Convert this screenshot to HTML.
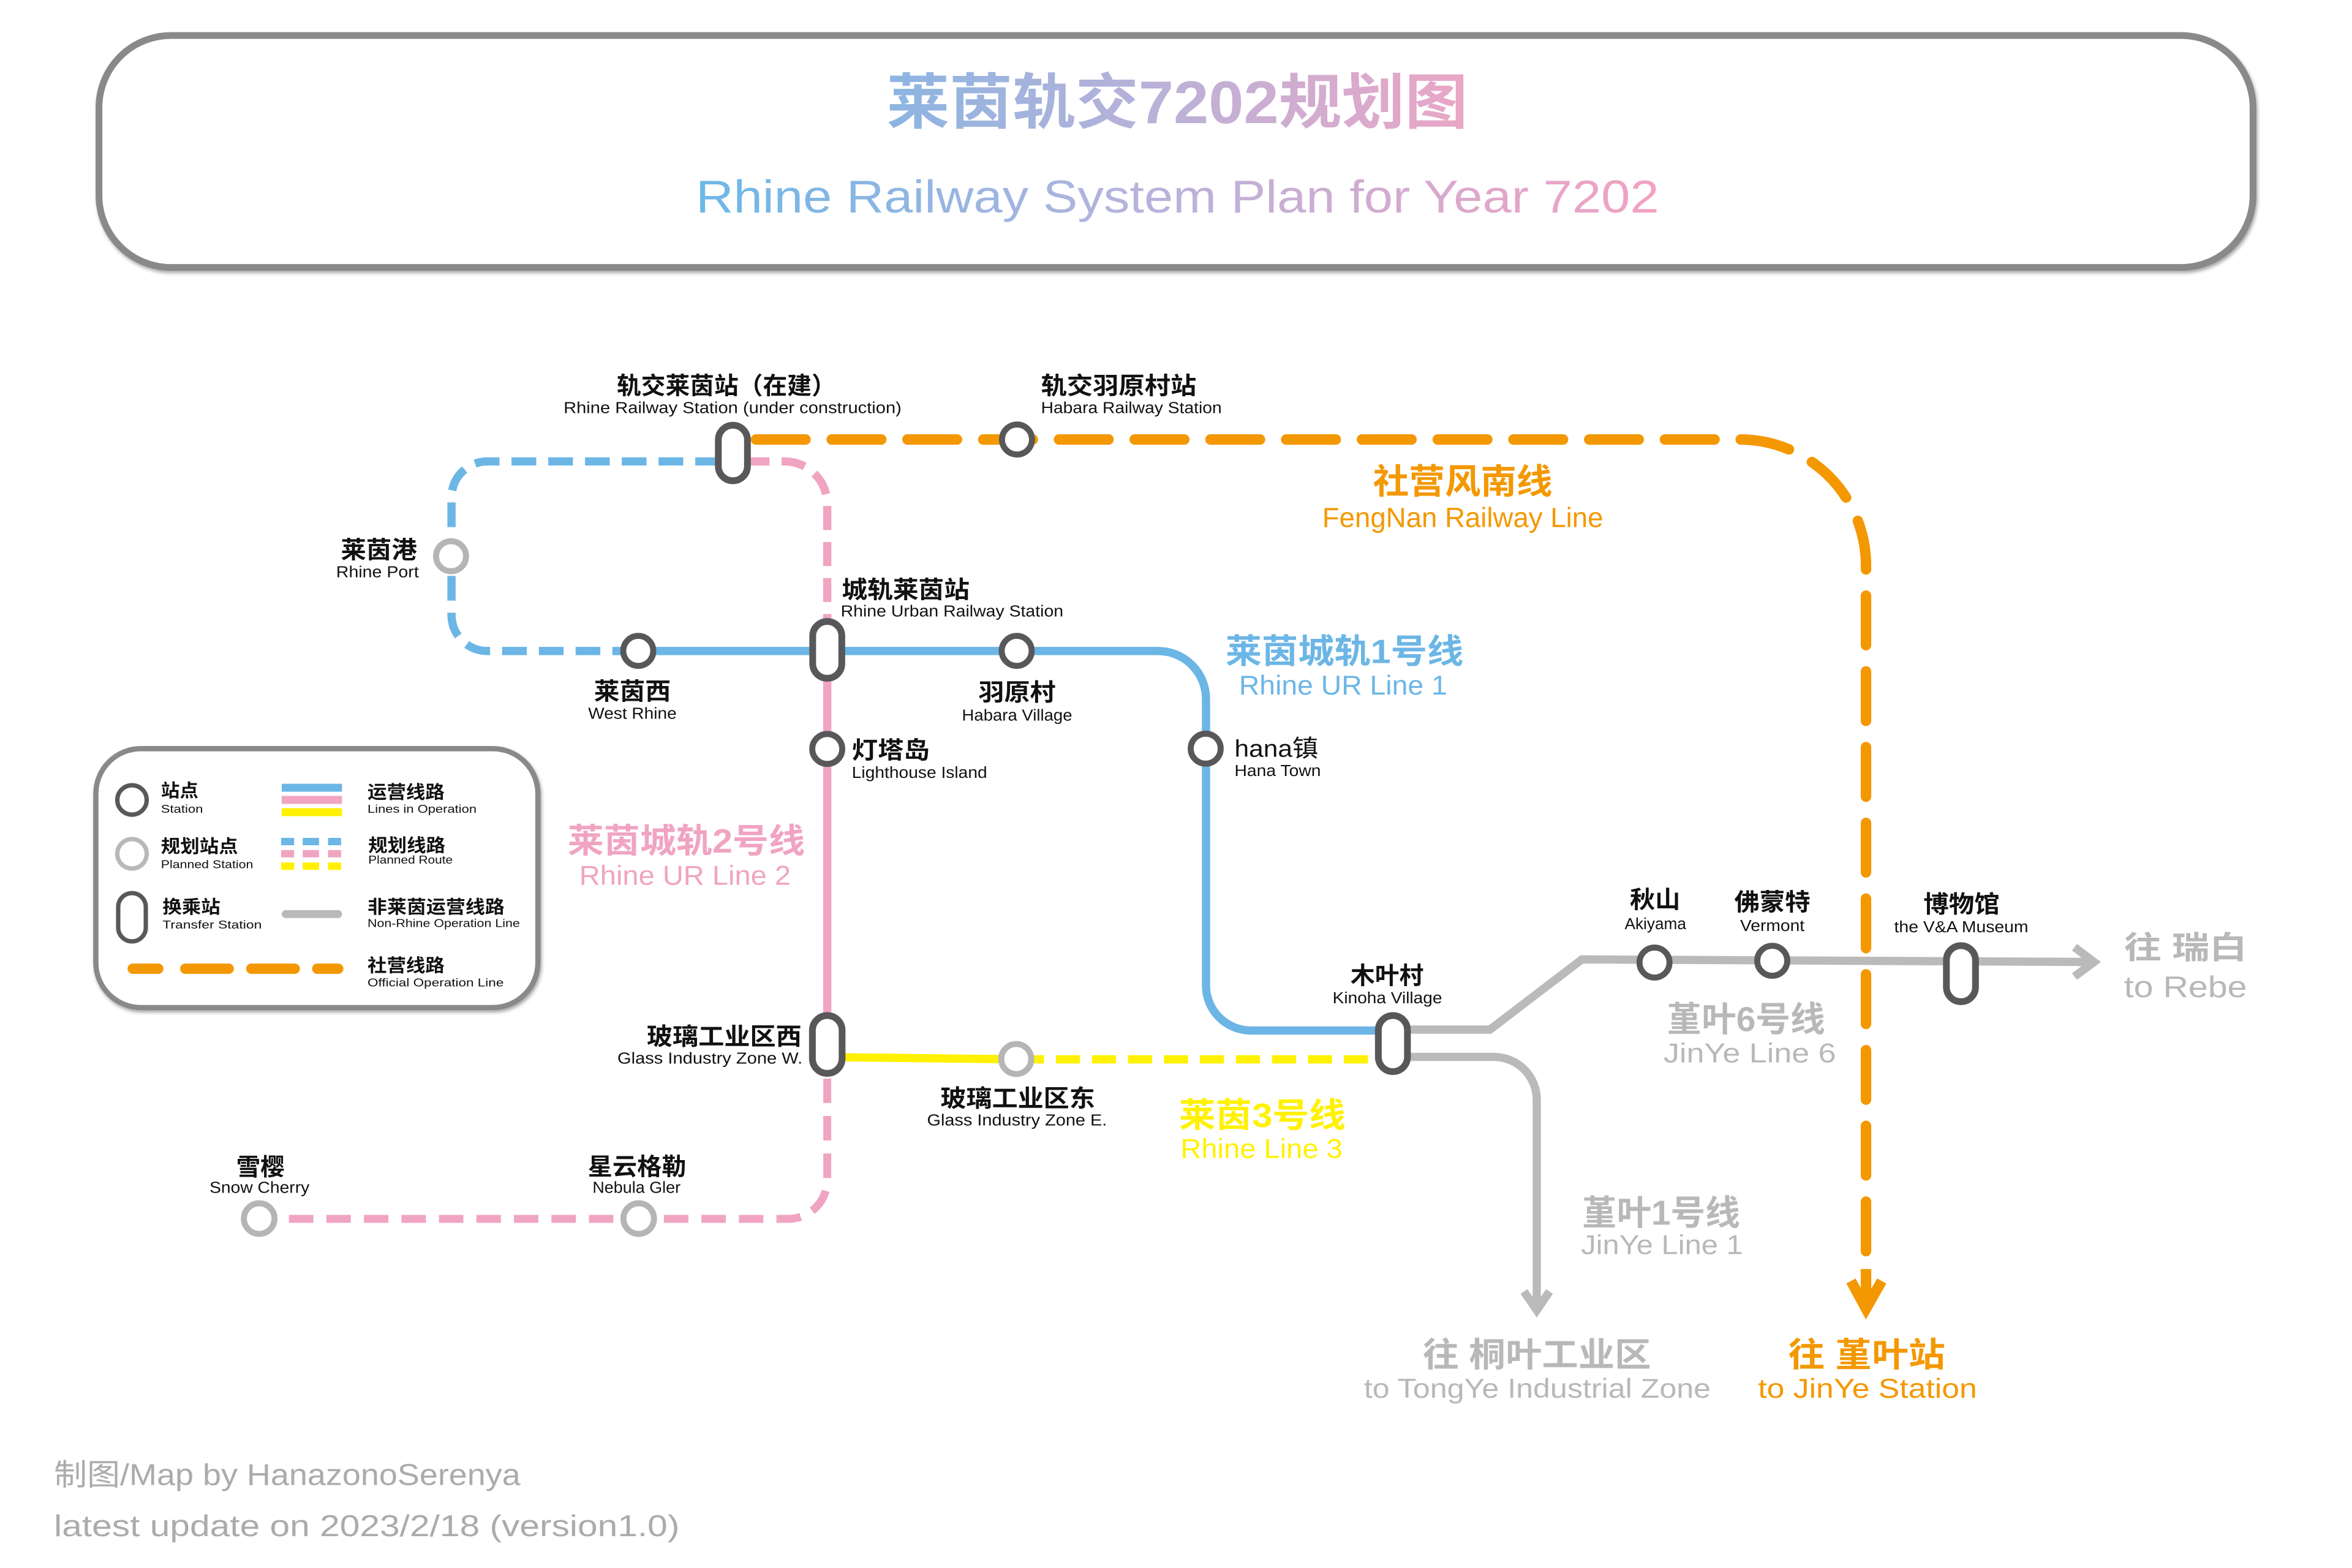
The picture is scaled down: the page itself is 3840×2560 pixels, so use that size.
<!DOCTYPE html>
<html><head><meta charset="utf-8"><style>
html,body{margin:0;padding:0;background:#fff;}
svg{display:block;}
text{font-family:"Liberation Sans","Noto Sans CJK SC",sans-serif;}
.cn{font-weight:700;fill:#111;font-size:16px;}
.en{fill:#111;font-size:10.5px;}
.lc{font-weight:700;fill:#111;font-size:12px;}
.le{fill:#111;font-size:7.6px;}
.ll{font-weight:700;}
.st{fill:#fff;stroke:#58585a;stroke-width:4;}
.pl{fill:#fff;stroke:#b5b5b5;stroke-width:4;}
.pill{fill:#fff;stroke:#58585a;stroke-width:4.5;}
</style></head><body>
<svg xmlns="http://www.w3.org/2000/svg" width="3840" height="2560" viewBox="0 0 1568 1045.33">
<defs>
<linearGradient id="gt" gradientUnits="userSpaceOnUse" x1="591" y1="0" x2="978" y2="0">
<stop offset="0" stop-color="#8cb5e2"/><stop offset="0.5" stop-color="#bdb1d7"/><stop offset="1" stop-color="#eaa6c6"/>
</linearGradient>
<linearGradient id="gs" gradientUnits="userSpaceOnUse" x1="464" y1="0" x2="1106" y2="0">
<stop offset="0" stop-color="#6bb8e8"/><stop offset="0.45" stop-color="#b6b3dc"/><stop offset="1" stop-color="#f2a2c2"/>
</linearGradient>
<filter id="sh" x="-5%" y="-20%" width="110%" height="140%">
<feDropShadow dx="0.8" dy="1.5" stdDeviation="1.2" flood-color="#000" flood-opacity="0.35"/>
</filter>
</defs>
<rect width="1568" height="1045.33" fill="#fff"/>

<!-- Header box -->
<rect x="66" y="23.7" width="1436" height="154.6" rx="48" ry="48" fill="#fff" stroke="#898989" stroke-width="4.5" filter="url(#sh)"/>
<text x="591" y="82" font-size="40" font-weight="700" fill="url(#gt)" textLength="387.5" lengthAdjust="spacingAndGlyphs">莱茵轨交7202规划图</text>
<text x="464" y="141.7" font-size="30.5" fill="url(#gs)" textLength="642" lengthAdjust="spacingAndGlyphs">Rhine Railway System Plan for Year 7202</text>

<!-- Legend box -->
<rect x="63.9" y="499.1" width="294.7" height="172.6" rx="30" ry="30" fill="#fff" stroke="#898989" stroke-width="3.5" filter="url(#sh)"/>
<circle cx="88" cy="533.3" r="9.8" fill="#fff" stroke="#58585a" stroke-width="2.9"/>
<circle cx="88" cy="569.2" r="9.8" fill="#fff" stroke="#b8b8b8" stroke-width="2.9"/>
<rect x="78.8" y="595.4" width="18.4" height="32.2" rx="9.2" ry="9.2" fill="#fff" stroke="#58585a" stroke-width="2.9"/>
<rect x="187.8" y="522.5" width="40.2" height="5.3" fill="#6cb6e6"/>
<rect x="187.8" y="530.6" width="40.2" height="5.3" fill="#f0a4c2"/>
<rect x="187.8" y="538.8" width="40.2" height="5.3" fill="#fff100"/>
<g>
<rect x="187.4" y="558.6" width="8.7" height="4.9" fill="#6cb6e6"/><rect x="201.8" y="558.6" width="10.9" height="4.9" fill="#6cb6e6"/><rect x="218.7" y="558.6" width="8.7" height="4.9" fill="#6cb6e6"/>
<rect x="187.4" y="566.7" width="8.7" height="4.9" fill="#f0a4c2"/><rect x="201.8" y="566.7" width="10.9" height="4.9" fill="#f0a4c2"/><rect x="218.7" y="566.7" width="8.7" height="4.9" fill="#f0a4c2"/>
<rect x="187.4" y="575" width="8.7" height="4.9" fill="#fff100"/><rect x="201.8" y="575" width="10.9" height="4.9" fill="#fff100"/><rect x="218.7" y="575" width="8.7" height="4.9" fill="#fff100"/>
</g>
<line x1="190.5" y1="609.4" x2="225.4" y2="609.4" stroke="#bababa" stroke-width="5.3" stroke-linecap="round"/>
<g stroke="#f39800" stroke-width="6.9" stroke-linecap="round">
<line x1="88.5" y1="645.8" x2="105.5" y2="645.8"/>
<line x1="123.5" y1="645.8" x2="152.5" y2="645.8"/>
<line x1="167.5" y1="645.8" x2="196.5" y2="645.8"/>
<line x1="211.5" y1="645.8" x2="225.5" y2="645.8"/>
</g>
<text class="lc" x="107.3" y="531.2" textLength="25" lengthAdjust="spacingAndGlyphs">站点</text>
<text class="le" x="107.3" y="541.8" textLength="28" lengthAdjust="spacingAndGlyphs">Station</text>
<text class="lc" x="107.3" y="568.3" textLength="51.4" lengthAdjust="spacingAndGlyphs">规划站点</text>
<text class="le" x="107.3" y="578.8" textLength="61.5" lengthAdjust="spacingAndGlyphs">Planned Station</text>
<text class="lc" x="108.3" y="608.8" textLength="38.6" lengthAdjust="spacingAndGlyphs">换乘站</text>
<text class="le" x="108.3" y="619" textLength="66.2" lengthAdjust="spacingAndGlyphs">Transfer Station</text>
<text class="lc" x="245" y="532.3" textLength="51.4" lengthAdjust="spacingAndGlyphs">运营线路</text>
<text class="le" x="245" y="541.8" textLength="72.7" lengthAdjust="spacingAndGlyphs">Lines in Operation</text>
<text class="lc" x="245.5" y="567.8" textLength="51.4" lengthAdjust="spacingAndGlyphs">规划线路</text>
<text class="le" x="245.5" y="575.8" textLength="56.3" lengthAdjust="spacingAndGlyphs">Planned Route</text>
<text class="lc" x="245" y="608.8" textLength="91.4" lengthAdjust="spacingAndGlyphs">非莱茵运营线路</text>
<text class="le" x="245" y="618" textLength="101.6" lengthAdjust="spacingAndGlyphs">Non-Rhine Operation Line</text>
<text class="lc" x="245" y="647.8" textLength="51.4" lengthAdjust="spacingAndGlyphs">社营线路</text>
<text class="le" x="245" y="657.6" textLength="90.8" lengthAdjust="spacingAndGlyphs">Official Operation Line</text>

<!-- Gray lines -->
<g fill="none" stroke="#bababa" stroke-width="5.5" stroke-linejoin="miter">
<path d="M 936 686.4 H 993.3 L 1054.6 639.6 L 1393 641.3"/>
<path d="M 1383 631.5 L 1396 641.3 L 1383 651"/>
<path d="M 936 704.6 H 996 A 28.5 28.5 0 0 1 1024.5 733.1 V 872"/>
<path d="M 1016 861 L 1024.5 873.5 L 1033 861"/>
</g>

<!-- Blue lines -->
<path d="M 480 307.6 H 325 A 24 24 0 0 0 301 331.6 V 410 A 24 24 0 0 0 325 434 H 422" fill="none" stroke="#6cb6e6" stroke-width="5.5" stroke-dasharray="16.5 8"/>
<path d="M 425 434 H 772 A 32 32 0 0 1 804 466 V 657 A 30 30 0 0 0 834 687 H 924" fill="none" stroke="#6cb6e6" stroke-width="5.5"/>

<!-- Pink lines -->
<path d="M 497 307.6 H 523 A 28.5 28.5 0 0 1 551.5 336.1 V 412" fill="none" stroke="#f0a4c2" stroke-width="5.5" stroke-dasharray="16 8"/>
<path d="M 551.5 410 V 697" fill="none" stroke="#f0a4c2" stroke-width="5.5"/>
<path d="M 551.5 719 V 786.6 A 26 26 0 0 1 525.5 812.6 H 172" fill="none" stroke="#f0a4c2" stroke-width="5.3" stroke-dasharray="16.3 8.7"/>

<!-- Yellow lines -->
<path d="M 558 704.8 L 677 706.2" fill="none" stroke="#fff100" stroke-width="5.5"/>
<path d="M 680 706.2 H 920" fill="none" stroke="#fff100" stroke-width="5.5" stroke-dasharray="16 8"/>

<!-- Orange line -->
<path d="M 504 293 H 1160 A 84 84 0 0 1 1244 377 V 845" fill="none" stroke="#f39800" stroke-width="7" stroke-linecap="round" stroke-dasharray="33 17.5"/>
<path d="M 1244 846 V 869" fill="none" stroke="#f39800" stroke-width="7"/>
<path d="M 1234 854 L 1244 872.5 L 1254.5 854" fill="none" stroke="#f39800" stroke-width="7" stroke-linejoin="miter"/>

<!-- Stations -->
<rect class="pill" x="478.9" y="283.5" width="19.4" height="37" rx="9.7" ry="9.7"/>
<circle class="st" cx="678" cy="293" r="10"/>
<circle class="pl" cx="300.7" cy="370.8" r="10"/>
<circle class="st" cx="425.5" cy="433.9" r="10"/>
<rect class="pill" x="541.8" y="414.3" width="19.4" height="37.9" rx="9.7" ry="9.7"/>
<circle class="st" cx="677.8" cy="433.9" r="10"/>
<circle class="st" cx="551.5" cy="499.3" r="10"/>
<circle class="st" cx="803.8" cy="499.1" r="10"/>
<rect class="pill" x="541.6" y="677" width="19.8" height="38.6" rx="9.9" ry="9.9"/>
<circle class="pl" cx="677.5" cy="706" r="10"/>
<rect class="pill" x="918.9" y="677" width="19.4" height="37.4" rx="9.7" ry="9.7"/>
<circle class="st" cx="1103" cy="641.7" r="10"/>
<circle class="st" cx="1181.5" cy="640.5" r="10"/>
<rect class="pill" x="1297.6" y="630.4" width="19.4" height="37.4" rx="9.7" ry="9.7"/>
<circle class="pl" cx="172.8" cy="812.4" r="10.2"/>
<circle class="pl" cx="425.8" cy="812.4" r="10.2"/>

<!-- Station labels -->
<text class="cn" x="411.2" y="262.8" textLength="146.1" lengthAdjust="spacingAndGlyphs">轨交莱茵站（在建）</text>
<text class="en" x="375.7" y="275.5" textLength="225.3" lengthAdjust="spacingAndGlyphs">Rhine Railway Station (under construction)</text>
<text class="cn" x="694" y="262.8" textLength="103.6" lengthAdjust="spacingAndGlyphs">轨交羽原村站</text>
<text class="en" x="694" y="275.5" textLength="120.5" lengthAdjust="spacingAndGlyphs">Habara Railway Station</text>
<text class="cn" x="227.2" y="372.2" textLength="50.8" lengthAdjust="spacingAndGlyphs">莱茵港</text>
<text class="en" x="224.1" y="384.9" textLength="55.1" lengthAdjust="spacingAndGlyphs">Rhine Port</text>
<text class="cn" x="561.2" y="398.8" textLength="85.2" lengthAdjust="spacingAndGlyphs">城轨莱茵站</text>
<text class="en" x="560.5" y="411" textLength="148.4" lengthAdjust="spacingAndGlyphs">Rhine Urban Railway Station</text>
<text class="cn" x="396" y="466.5" textLength="51.2" lengthAdjust="spacingAndGlyphs">莱茵西</text>
<text class="en" x="392.1" y="479.2" textLength="59" lengthAdjust="spacingAndGlyphs">West Rhine</text>
<text class="cn" x="652.3" y="467.2" textLength="51.5" lengthAdjust="spacingAndGlyphs">羽原村</text>
<text class="en" x="641.3" y="480.5" textLength="73.5" lengthAdjust="spacingAndGlyphs">Habara Village</text>
<text class="cn" x="567.9" y="505.8" textLength="51.9" lengthAdjust="spacingAndGlyphs">灯塔岛</text>
<text class="en" x="567.9" y="518.5" textLength="90.2" lengthAdjust="spacingAndGlyphs">Lighthouse Island</text>
<text class="cn" x="823" y="504.5" font-size="17" textLength="55.9" lengthAdjust="spacingAndGlyphs" style="font-weight:400">hana镇</text>
<text class="en" x="823" y="517.4" textLength="57.6" lengthAdjust="spacingAndGlyphs">Hana Town</text>
<text class="cn" x="900.3" y="656" textLength="48.8" lengthAdjust="spacingAndGlyphs">木叶村</text>
<text class="en" x="888.4" y="668.9" textLength="73" lengthAdjust="spacingAndGlyphs">Kinoha Village</text>
<text class="cn" x="1086.6" y="605.4" textLength="33.6" lengthAdjust="spacingAndGlyphs">秋山</text>
<text class="en" x="1083.1" y="619.4" textLength="41" lengthAdjust="spacingAndGlyphs">Akiyama</text>
<text class="cn" x="1156.2" y="606.9" textLength="50.7" lengthAdjust="spacingAndGlyphs">佛蒙特</text>
<text class="en" x="1160.1" y="620.6" textLength="42.9" lengthAdjust="spacingAndGlyphs">Vermont</text>
<text class="cn" x="1282.3" y="608.4" textLength="50.8" lengthAdjust="spacingAndGlyphs">博物馆</text>
<text class="en" x="1262.8" y="621.5" textLength="89.4" lengthAdjust="spacingAndGlyphs">the V&amp;A Museum</text>
<text class="cn" x="431.2" y="696.6" textLength="103.2" lengthAdjust="spacingAndGlyphs">玻璃工业区西</text>
<text class="en" x="411.6" y="709.1" textLength="123.4" lengthAdjust="spacingAndGlyphs">Glass Industry Zone W.</text>
<text class="cn" x="627" y="737.8" textLength="103" lengthAdjust="spacingAndGlyphs">玻璃工业区东</text>
<text class="en" x="618" y="750.3" textLength="120" lengthAdjust="spacingAndGlyphs">Glass Industry Zone E.</text>
<text class="cn" x="157.5" y="783.6" textLength="32.2" lengthAdjust="spacingAndGlyphs">雪樱</text>
<text class="en" x="139.7" y="795.3" textLength="66.6" lengthAdjust="spacingAndGlyphs">Snow Cherry</text>
<text class="cn" x="391.9" y="783.4" textLength="65.6" lengthAdjust="spacingAndGlyphs">星云格勒</text>
<text class="en" x="395" y="795.3" textLength="58.7" lengthAdjust="spacingAndGlyphs">Nebula Gler</text>

<!-- Line labels -->
<text class="ll" x="915.4" y="329" font-size="23" fill="#f39800" textLength="119.5" lengthAdjust="spacingAndGlyphs">社营风南线</text>
<text x="881.5" y="351.3" font-size="18.5" fill="#f39800" textLength="187.3" lengthAdjust="spacingAndGlyphs">FengNan Railway Line</text>
<text class="ll" x="817" y="442" font-size="22.5" fill="#6cb6e6" textLength="158.6" lengthAdjust="spacingAndGlyphs">莱茵城轨1号线</text>
<text x="826" y="463" font-size="18" fill="#6cb6e6" textLength="138.8" lengthAdjust="spacingAndGlyphs">Rhine UR Line 1</text>
<text class="ll" x="378.4" y="568.4" font-size="22.5" fill="#f0a4c2" textLength="158.2" lengthAdjust="spacingAndGlyphs">莱茵城轨2号线</text>
<text x="386.2" y="589.9" font-size="18" fill="#f0a4c2" textLength="141" lengthAdjust="spacingAndGlyphs">Rhine UR Line 2</text>
<text class="ll" x="786" y="751.3" font-size="22.5" fill="#fff100" textLength="111" lengthAdjust="spacingAndGlyphs">莱茵3号线</text>
<text x="787" y="772" font-size="18" fill="#fff100" textLength="108" lengthAdjust="spacingAndGlyphs">Rhine Line 3</text>
<text class="ll" x="1111.2" y="687.5" font-size="23" fill="#b8b8b8" textLength="105.5" lengthAdjust="spacingAndGlyphs">堇叶6号线</text>
<text x="1109" y="708.2" font-size="18" fill="#b8b8b8" textLength="115" lengthAdjust="spacingAndGlyphs">JinYe Line 6</text>
<text class="ll" x="1054.6" y="816.5" font-size="23" fill="#b8b8b8" textLength="105.4" lengthAdjust="spacingAndGlyphs">堇叶1号线</text>
<text x="1054" y="836" font-size="18" fill="#b8b8b8" textLength="108" lengthAdjust="spacingAndGlyphs">JinYe Line 1</text>
<text class="ll" x="948.4" y="911" font-size="22.5" fill="#b8b8b8" textLength="152.3" lengthAdjust="spacingAndGlyphs">往 桐叶工业区</text>
<text x="909.3" y="931.8" font-size="18" fill="#b8b8b8" textLength="231.2" lengthAdjust="spacingAndGlyphs">to TongYe Industrial Zone</text>
<text class="ll" x="1192.1" y="911" font-size="22.5" fill="#f39800" textLength="104.7" lengthAdjust="spacingAndGlyphs">往 堇叶站</text>
<text x="1172" y="931.8" font-size="18" fill="#f39800" textLength="146" lengthAdjust="spacingAndGlyphs">to JinYe Station</text>
<text class="ll" x="1416" y="639" font-size="21" fill="#b8b8b8" textLength="82" lengthAdjust="spacingAndGlyphs">往 瑞白</text>
<text x="1416" y="664.7" font-size="20" fill="#b8b8b8" textLength="82" lengthAdjust="spacingAndGlyphs">to Rebe</text>

<!-- Footer -->
<text x="36" y="990" font-size="20" fill="#ababab" textLength="311" lengthAdjust="spacingAndGlyphs">制图/Map by HanazonoSerenya</text>
<text x="36" y="1024" font-size="20" fill="#ababab" textLength="417" lengthAdjust="spacingAndGlyphs">latest update on 2023/2/18 (version1.0)</text>
</svg>
</body></html>
